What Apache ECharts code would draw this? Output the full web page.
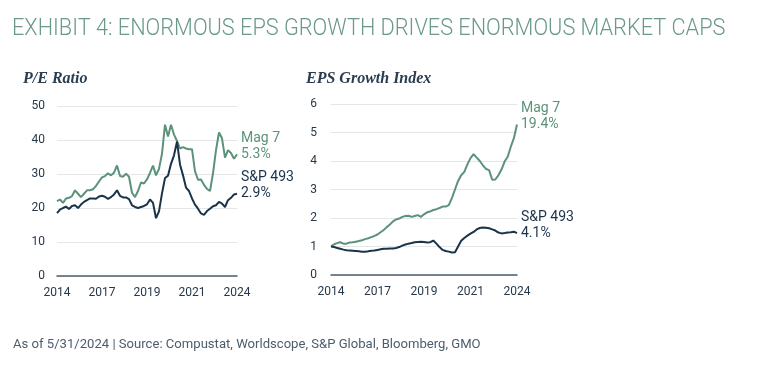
<!DOCTYPE html>
<html>
<head>
<meta charset="utf-8">
<script src="https://cdn.jsdelivr.net/npm/echarts@6/dist/echarts.min.js"></script>
<style>
html,body{margin:0;padding:0;background:#fff;}
#chart{width:758px;height:378px;}
</style>
</head>
<body>
<div id="chart"></div>
<script>
// Tick labels shown under each panel (at evenly spaced positions)
const tickLabels = ['2014', '2017', '2019', '2021', '2024'];

// P/E Ratio panel
const peMag7 = [22, 22.5, 21.5, 22.8, 23, 23.5, 25.2, 24.2, 23.2, 24.2,
  25.2, 25.2, 25.5, 26.5, 27.8, 29, 29.4, 30.2, 29.6, 30.4,
  32.5, 29.4, 29.2, 30.1, 29.2, 24.5, 23.2, 25, 27.5, 27.2,
  28.4, 30.3, 32.5, 29.6, 31.5, 36, 44.5, 41, 44.5, 41.6,
  39.7, 37.5, 37.9, 37.5, 37.3, 37.3, 30.8, 28.3, 28.4, 26.8,
  25.6, 25, 30.2, 37, 42.2, 40.5, 34.8, 37, 36.2, 34.5, 35.8];
const peSP493 = [18.5, 19.5, 20, 20.4, 19.7, 20.6, 20.8, 20, 21, 21.8,
  22.3, 22.8, 22.8, 22.7, 23.4, 23.6, 23.3, 22.7, 23.2, 24,
  25.2, 23.6, 23.1, 23.1, 22.6, 20.8, 20.3, 20, 20.3, 20.6,
  21.1, 22.5, 21.5, 17, 19, 24.3, 28.8, 29.5, 33, 35.5,
  39.5, 32.8, 29.6, 26, 25, 22.8, 21, 19.8, 18.4, 18,
  19.1, 19.8, 20.5, 20.8, 21.8, 21.3, 20.3, 22.3, 23, 24, 24.2];

// EPS Growth Index panel
const epsMag7 = [1.0, 1.08, 1.12, 1.15, 1.1, 1.1, 1.14, 1.15, 1.17, 1.19,
  1.22, 1.26, 1.29, 1.33, 1.37, 1.42, 1.5, 1.58, 1.68, 1.77,
  1.88, 1.95, 1.98, 2.04, 2.07, 2.08, 2.04, 2.07, 2.1, 2.04,
  2.13, 2.2, 2.23, 2.28, 2.31, 2.35, 2.4, 2.4, 2.45, 2.7,
  3.0, 3.3, 3.5, 3.62, 3.88, 4.1, 4.24, 4.12, 4.0, 3.85,
  3.72, 3.68, 3.34, 3.35, 3.5, 3.7, 3.98, 4.15, 4.5, 4.8, 5.28];
const epsSP493 = [1.0, 0.98, 0.95, 0.92, 0.89, 0.87, 0.86, 0.85, 0.84, 0.83,
  0.82, 0.82, 0.83, 0.85, 0.86, 0.88, 0.9, 0.92, 0.92, 0.93,
  0.93, 0.95, 0.98, 1.03, 1.07, 1.1, 1.12, 1.15, 1.16, 1.17,
  1.16, 1.14, 1.15, 1.21, 1.1, 0.98, 0.88, 0.84, 0.82, 0.79,
  0.8, 1.0, 1.2, 1.3, 1.38, 1.45, 1.51, 1.6, 1.65, 1.67,
  1.66, 1.64, 1.6, 1.56, 1.49, 1.46, 1.47, 1.49, 1.5, 1.52, 1.47];

const endLabelsPE = ['Mag 7\n5.3%', 'S&P 493\n2.9%'];
const endLabelsEPS = ['Mag 7\n19.4%', 'S&P 493\n4.1%'];

const categories = peMag7.map((_, i) => String(i));
const step = (categories.length - 1) / (tickLabels.length - 1);

const GREEN = '#5b9279';
const NAVY = '#1b3349';
const FONT = 'Roboto';

function xAxisFor(gridIndex) {
  return {
    type: 'category', gridIndex, data: categories, boundaryGap: false,
    axisLine: { show: true, lineStyle: { color: '#4d5f6d', width: 1.5 } },
    axisTick: { show: false },
    axisLabel: {
      interval: step - 1, color: '#26384a', fontFamily: FONT, fontSize: 12, margin: 11,
      formatter: (v, idx) => tickLabels[Math.round(idx / step)] || ''
    }
  };
}
function yAxisFor(gridIndex, max, interval, margin) {
  return {
    type: 'value', gridIndex, min: 0, max, interval,
    axisLine: { show: false }, axisTick: { show: false },
    axisLabel: { color: '#26384a', fontFamily: FONT, fontSize: 12, margin },
    splitLine: { lineStyle: { color: '#e3e7ea', width: 1 } }
  };
}
function lineSeries(name, data, color, axis, label) {
  return {
    name, type: 'line', data, xAxisIndex: axis, yAxisIndex: axis,
    symbol: 'none', smooth: false,
    lineStyle: { color, width: 2 },
    endLabel: {
      show: true, formatter: label, color, fontFamily: FONT, fontSize: 14,
      lineHeight: 16, distance: 4, offset: [0, -8], align: 'left'
    },
    z: name.startsWith('S&P') ? 3 : 2
  };
}

const chart = echarts.init(document.getElementById('chart'), null, { renderer: 'canvas' });
chart.setOption({
  animation: false,
  backgroundColor: '#ffffff',
  graphic: [
    { type: 'text', x: 12, y: 17, scaleX: 0.905, scaleY: 1,
      style: { text: 'EXHIBIT 4: ENORMOUS EPS GROWTH DRIVES ENORMOUS MARKET CAPS',
        font: '300 24px Roboto', fill: '#6b998b', verticalAlign: 'top', align: 'left' } }
  ],
  title: [
    { text: 'P/E Ratio', left: 23, top: 71, padding: 0,
      textStyle: { fontFamily: 'Liberation Serif', fontStyle: 'italic', fontWeight: 'bold', fontSize: 16, color: '#2a3d50' } },
    { text: 'EPS Growth Index', left: 306, top: 71, padding: 0,
      textStyle: { fontFamily: 'Liberation Serif', fontStyle: 'italic', fontWeight: 'bold', fontSize: 16, color: '#2a3d50' } },
    { text: 'As of 5/31/2024 | Source: Compustat, Worldscope, S&P Global, Bloomberg, GMO', left: 13, top: 338, padding: 0,
      textStyle: { fontFamily: FONT, fontWeight: 'normal', fontSize: 13.1, color: '#4c5d6d' } }
  ],
  grid: [
    { left: 57, top: 106, width: 180, height: 170 },
    { left: 331, top: 104, width: 186, height: 171 }
  ],
  xAxis: [xAxisFor(0), xAxisFor(1)],
  yAxis: [yAxisFor(0, 50, 10, 12), yAxisFor(1, 6, 1, 14)],
  series: [
    lineSeries('Mag 7', peMag7, GREEN, 0, endLabelsPE[0]),
    lineSeries('S&P 493', peSP493, NAVY, 0, endLabelsPE[1]),
    lineSeries('Mag 7 EPS', epsMag7, GREEN, 1, endLabelsEPS[0]),
    lineSeries('S&P 493 EPS', epsSP493, NAVY, 1, endLabelsEPS[1])
  ]
});
</script>
</body>
</html>
